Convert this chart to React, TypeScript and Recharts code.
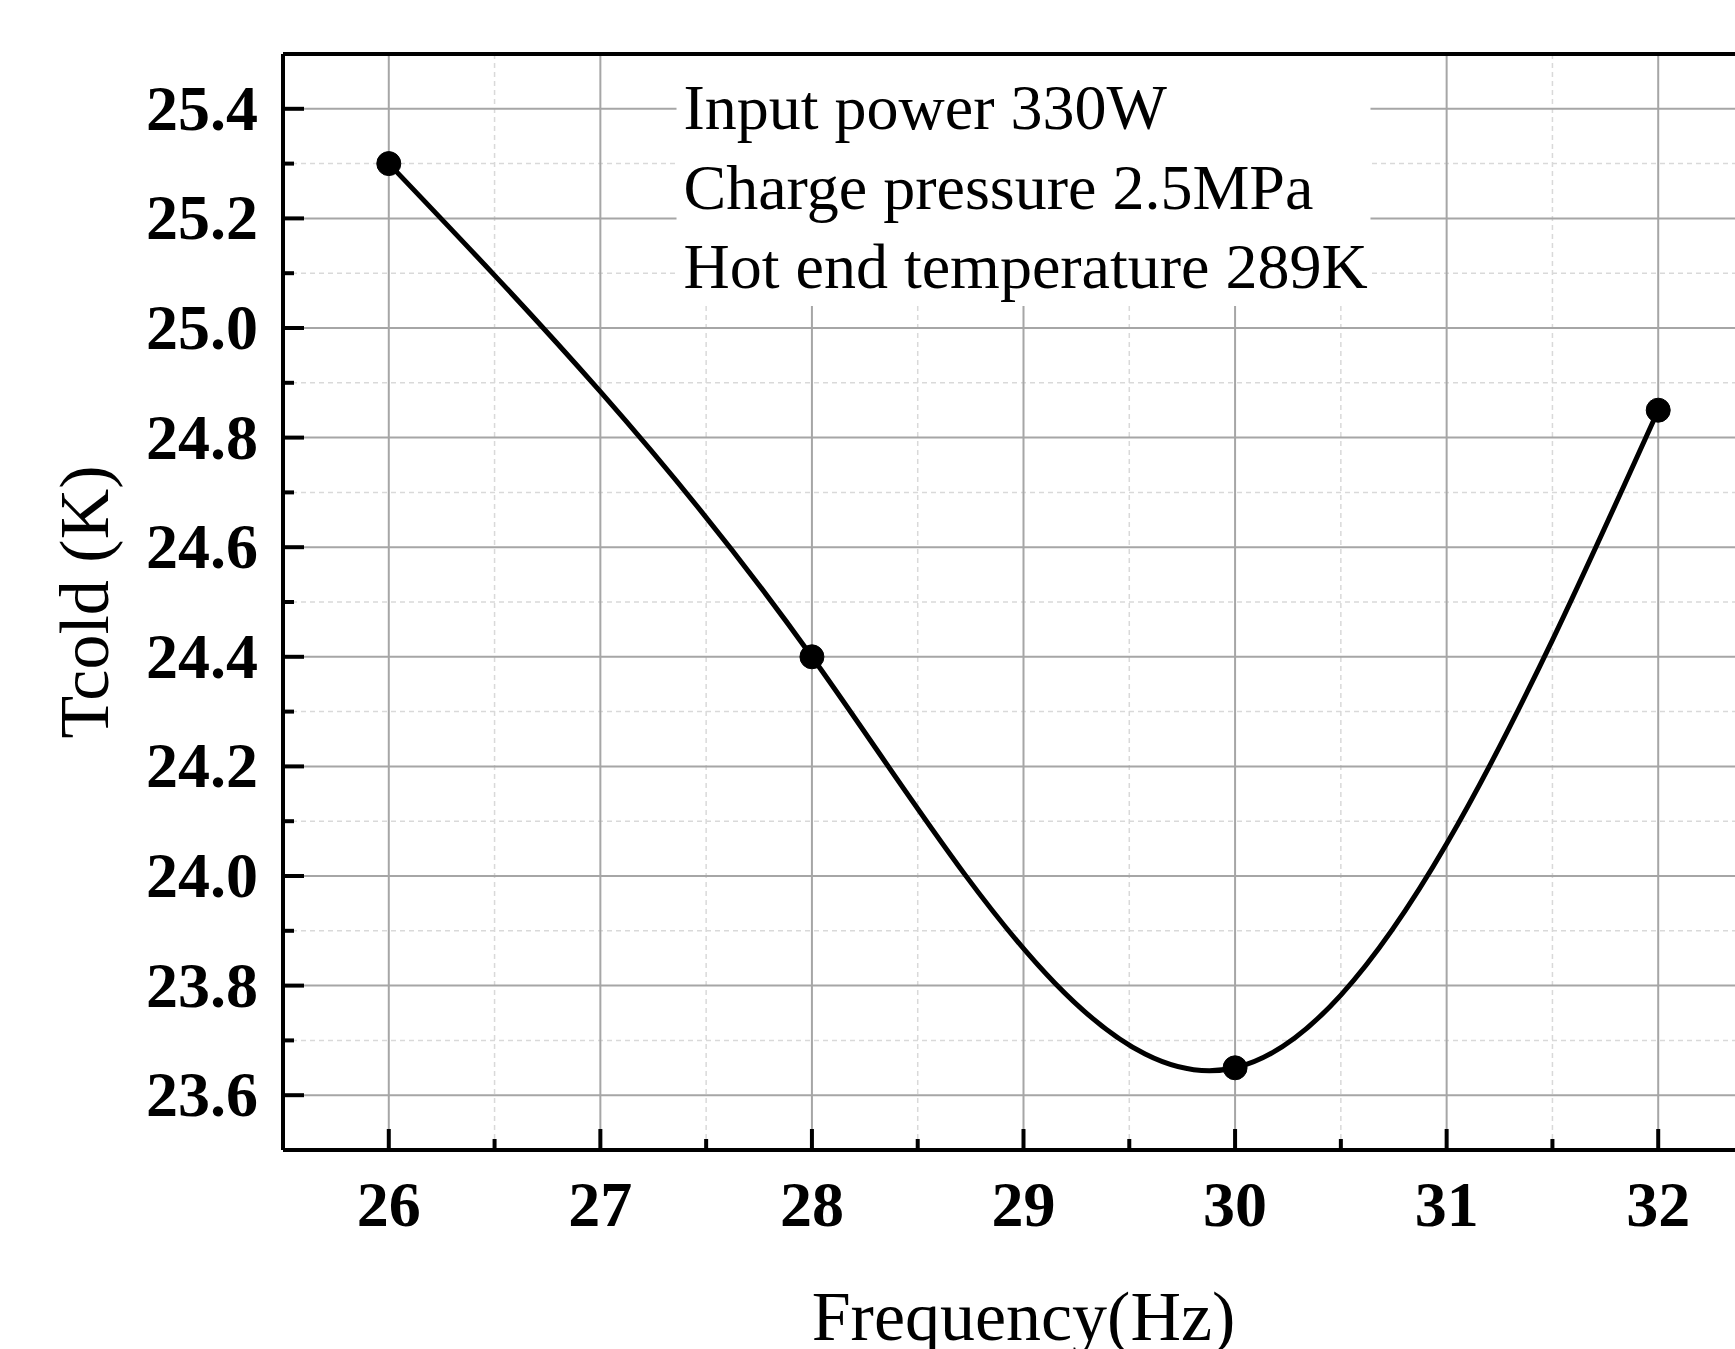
import React from 'react';
import { LineChart, Line, XAxis, YAxis, CartesianGrid, ReferenceArea } from 'recharts';

// measured points
const frequency = [26, 28, 30, 32];
const tcold = [25.3, 24.4, 23.65, 24.85];

const xMajorTicks = [26, 27, 28, 29, 30, 31, 32];
const xMinorTicks = [26.5, 27.5, 28.5, 29.5, 30.5, 31.5];
const yMajorTicks = [23.6, 23.8, 24.0, 24.2, 24.4, 24.6, 24.8, 25.0, 25.2, 25.4];
const yMinorTicks = [23.7, 23.9, 24.1, 24.3, 24.5, 24.7, 24.9, 25.1, 25.3];

const noteLines = ['Input power 330W', 'Charge pressure 2.5MPa', 'Hot end temperature 289K'];

const data = frequency.map((f, i) => ({ f, t: tcold[i] }));
const xTicks = [...xMajorTicks, ...xMinorTicks].sort((a, b) => a - b);
const yTicks = [...yMajorTicks, ...yMinorTicks].sort((a, b) => a - b);

const SERIF = "'Times New Roman', 'Liberation Serif', serif";
const AXIS_W = 4;

const BottomTick = (props: any) => {
  const { x, y, payload } = props;
  const major = xMajorTicks.includes(payload.value);
  return (
    <g>
      <line x1={x} y1={y} x2={x} y2={y - (major ? 21 : 11)} stroke="#000" strokeWidth={AXIS_W} />
      {major && (
        <text x={x} y={y + 76} textAnchor="middle" fontFamily={SERIF} fontWeight="bold" fontSize={64} fill="#000">
          {payload.value}
        </text>
      )}
    </g>
  );
};

const TopTick = (props: any) => {
  const { x, y, payload } = props;
  const major = xMajorTicks.includes(payload.value);
  return <line x1={x} y1={y} x2={x} y2={y + (major ? 21 : 11)} stroke="#000" strokeWidth={AXIS_W} />;
};

const LeftTick = (props: any) => {
  const { x, y, payload } = props;
  const major = yMajorTicks.includes(payload.value);
  return (
    <g>
      <line x1={x} y1={y} x2={x + (major ? 21 : 11)} y2={y} stroke="#000" strokeWidth={AXIS_W} />
      {major && (
        <text x={x - 25} y={y + 21} textAnchor="end" fontFamily={SERIF} fontWeight="bold" fontSize={64} fill="#000">
          {Number(payload.value).toFixed(1)}
        </text>
      )}
    </g>
  );
};

const XTitle = (props: any) => {
  const { x, y, width } = props.viewBox;
  return (
    <text x={x + width / 2} y={y + 190} textAnchor="middle" fontFamily={SERIF} fontSize={70} fill="#000">
      Frequency(Hz)
    </text>
  );
};

const YTitle = (props: any) => {
  const { x, y, height } = props.viewBox;
  const cx = x + 108;
  const cy = y + height / 2;
  return (
    <text x={cx} y={cy} transform={`rotate(-90, ${cx}, ${cy})`} textAnchor="middle" fontFamily={SERIF} fontSize={70} fill="#000">
      Tcold (K)
    </text>
  );
};

const NoteText = (props: any) => {
  const { x, y } = props.viewBox;
  return (
    <g>
      {noteLines.map((line, i) => (
        <text key={line} x={x + 7} y={y + 75 + i * 79.5} fontFamily={SERIF} fontSize={64} fill="#000">
          {line}
        </text>
      ))}
    </g>
  );
};

export default function App() {
  return (
    <div style={{ position: 'absolute', left: 0, top: 0, width: 1735, height: 1349, overflow: 'hidden', background: '#fff' }}>
      <LineChart width={1780} height={1349} data={data} margin={{ top: 0, right: 0, left: 0, bottom: 0 }}>
        <CartesianGrid verticalValues={xMinorTicks} horizontalValues={yMinorTicks} stroke="#d9d9d9" strokeDasharray="5 4" strokeWidth={1.5} />
        <CartesianGrid verticalValues={xMajorTicks} horizontalValues={yMajorTicks} stroke="#a6a6a6" strokeWidth={2} />
        <ReferenceArea x1={27.36} x2={30.64} y1={25.04} y2={25.5} fill="#fff" fillOpacity={1} stroke="none" ifOverflow="visible" label={{ content: NoteText }} />
        <XAxis
          dataKey="f"
          type="number"
          domain={[25.5, 32.5]}
          ticks={xTicks}
          interval={0}
          allowDataOverflow
          height={199}
          tickLine={false}
          tickSize={0}
          tickMargin={0}
          tick={BottomTick}
          axisLine={{ stroke: '#000', strokeWidth: AXIS_W }}
          label={{ content: XTitle }}
        />
        <XAxis
          xAxisId="top"
          orientation="top"
          type="number"
          domain={[25.5, 32.5]}
          ticks={xTicks}
          interval={0}
          allowDataOverflow
          height={54}
          tickLine={false}
          tickSize={0}
          tickMargin={0}
          tick={TopTick}
          axisLine={{ stroke: '#000', strokeWidth: AXIS_W }}
        />
        <YAxis
          type="number"
          domain={[23.5, 25.5]}
          ticks={yTicks}
          interval={0}
          allowDataOverflow
          width={283}
          tickLine={false}
          tickSize={0}
          tickMargin={0}
          tick={LeftTick}
          axisLine={{ stroke: '#000', strokeWidth: AXIS_W }}
          label={{ content: YTitle }}
        />
        <YAxis
          yAxisId="right"
          orientation="right"
          type="number"
          domain={[23.5, 25.5]}
          width={16}
          tick={false}
          tickLine={false}
          axisLine={{ stroke: '#000', strokeWidth: AXIS_W }}
        />
        <Line
          dataKey="t"
          type="natural"
          stroke="#000"
          strokeWidth={5}
          dot={{ r: 12, fill: '#000', stroke: '#000', strokeWidth: 1 }}
          activeDot={false}
          isAnimationActive={false}
        />
      </LineChart>
    </div>
  );
}
